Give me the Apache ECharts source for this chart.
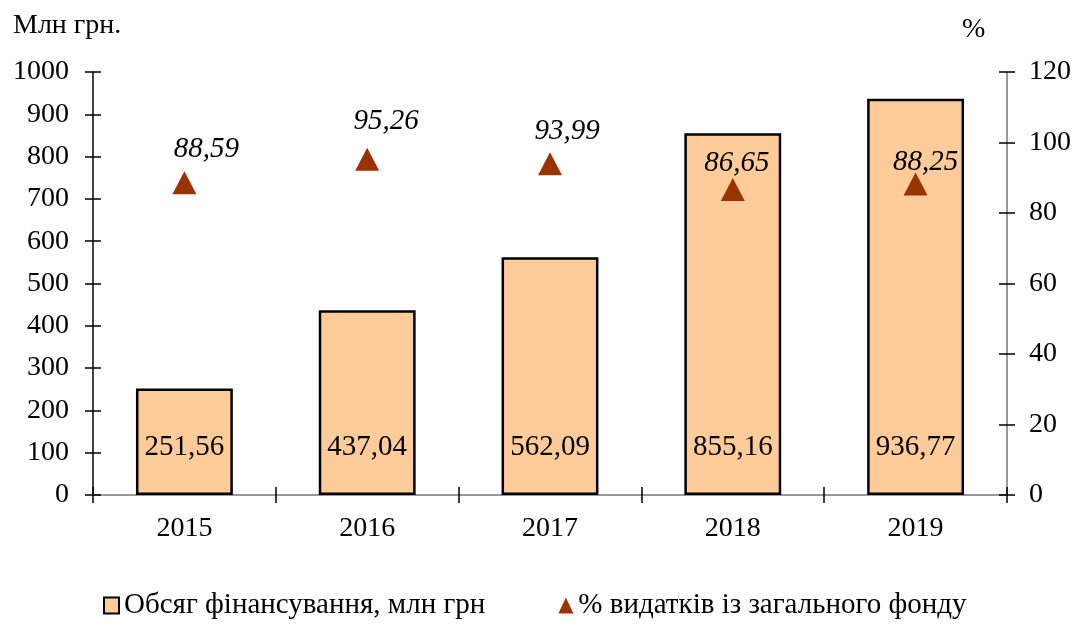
<!DOCTYPE html>
<html>
<head>
<meta charset="utf-8">
<script src="https://cdn.jsdelivr.net/npm/echarts@6/dist/echarts.min.js"></script>
<style>
  html, body { margin: 0; padding: 0; background: #fff; }
  #chart { width: 1085px; height: 627px; }
</style>
</head>
<body>
<div id="chart"></div>
<script>
// дані
const years = ['2015', '2016', '2017', '2018', '2019'];
const fundingValues = [251.56, 437.04, 562.09, 855.16, 936.77];
const sharePercent = [88.59, 95.26, 93.99, 86.65, 88.25];

// зсув підписів відносно трикутників (як в оригіналі)
const shareLabelOffsets = [[22, -33], [19, -38], [17, -32], [4, -26], [10, -22]];

const barName = 'Обсяг фінансування, млн грн';
const lineName = '% видатків із загального фонду';

const font = 'Liberation Serif, Times New Roman, serif';

// кома замість крапки
const fmt = (v) => v.toFixed(2).replace('.', ',');

const chart = echarts.init(document.getElementById('chart'));

const tickStyle = { color: '#000', width: 1.5 };

chart.setOption({
    animation: false,
    textStyle: { fontFamily: font },
    grid: { left: 93, right: 78, top: 72, bottom: 132 },
    graphic: [
        { type: 'text', left: 13, top: 12, style: { text: 'Млн грн.', font: '28px ' + font, fill: '#000' } },
        { type: 'text', left: 962, top: 16, style: { text: '%', font: '28px ' + font, fill: '#000' } }
    ],
    legend: {
        bottom: 2,
        left: 98,
        itemGap: 73,
        itemWidth: 15,
        itemHeight: 16,
        textStyle: { fontFamily: font, fontSize: 29, color: '#000' },
        data: [
            { name: barName, icon: 'rect' },
            { name: lineName, icon: 'triangle' }
        ]
    },
    xAxis: [
        {
            type: 'category',
            data: years,
            position: 'bottom',
            axisLine: { show: true, lineStyle: { color: '#777', width: 1.5 } },
            axisTick: { show: true, length: 8, lineStyle: tickStyle },
            axisLabel: { fontFamily: font, fontSize: 28, color: '#000', margin: 20 }
        },
        {
            type: 'category',
            data: years,
            position: 'bottom',
            axisLine: { show: false },
            axisTick: { show: true, inside: true, length: 8, lineStyle: tickStyle },
            axisLabel: { show: false }
        }
    ],
    yAxis: [
        {
            type: 'value',
            min: 0, max: 1000, interval: 100,
            position: 'left',
            axisLine: { show: true, lineStyle: { color: '#000', width: 1.5 } },
            axisTick: { show: true, length: 8, lineStyle: tickStyle },
            axisLabel: { fontFamily: font, fontSize: 28, color: '#000', margin: 24, formatter: (v) => String(v) },
            splitLine: { show: false }
        },
        {
            type: 'value',
            min: 0, max: 120, interval: 20,
            position: 'right',
            axisLine: { show: true, lineStyle: { color: '#777', width: 1.5 } },
            axisTick: { show: true, length: 8, lineStyle: tickStyle },
            axisLabel: { fontFamily: font, fontSize: 28, color: '#000', margin: 22, formatter: (v) => String(v) },
            splitLine: { show: false }
        },
        {
            type: 'value',
            min: 0, max: 1000, interval: 100,
            position: 'left',
            axisLine: { show: false },
            axisTick: { show: true, inside: true, length: 8, lineStyle: tickStyle },
            axisLabel: { show: false },
            splitLine: { show: false }
        },
        {
            type: 'value',
            min: 0, max: 120, interval: 20,
            position: 'right',
            axisLine: { show: false },
            axisTick: { show: true, inside: true, length: 8, lineStyle: tickStyle },
            axisLabel: { show: false },
            splitLine: { show: false }
        }
    ],
    series: [
        {
            name: barName,
            type: 'bar',
            yAxisIndex: 0,
            data: fundingValues,
            barWidth: '53%',
            itemStyle: { color: '#FFCC99', borderColor: '#000', borderWidth: 2.5 },
            label: {
                show: true,
                position: 'insideBottom',
                distance: 33,
                fontFamily: font,
                fontSize: 29,
                color: '#000',
                formatter: (p) => fmt(p.value)
            },
            z: 2
        },
        {
            name: lineName,
            type: 'line',
            yAxisIndex: 1,
            data: sharePercent.map((v, i) => ({
                value: v,
                label: { offset: shareLabelOffsets[i] }
            })),
            symbol: 'triangle',
            symbolSize: [24, 23],
            itemStyle: { color: '#993300' },
            lineStyle: { width: 0, opacity: 0 },
            label: {
                show: true,
                position: 'inside',
                fontFamily: font,
                fontSize: 29,
                fontStyle: 'italic',
                color: '#000',
                formatter: (p) => fmt(p.value)
            },
            z: 5
        }
    ]
});
</script>
</body>
</html>
